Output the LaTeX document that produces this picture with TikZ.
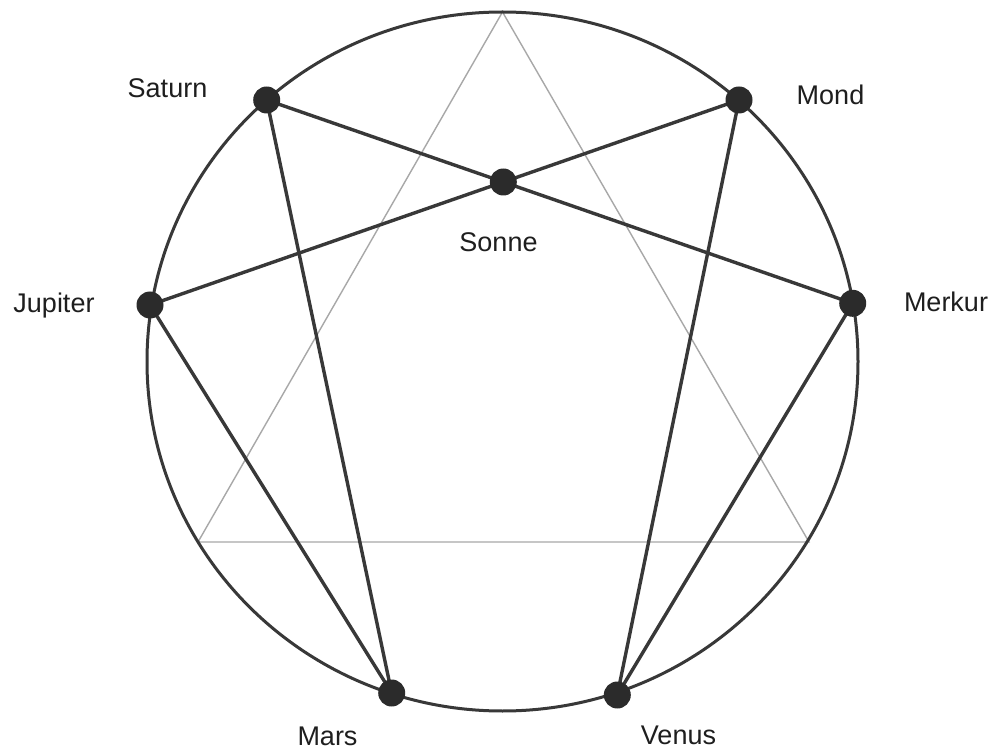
\documentclass[tikz,border=0pt]{standalone}
\usepackage{fontspec}
\setmainfont{Liberation Sans}
\definecolor{linecol}{HTML}{383838}
\definecolor{dotcol}{HTML}{2B2B2B}
\definecolor{tricol}{HTML}{A8A8A8}
\definecolor{txtcol}{HTML}{1E1E1E}
\begin{document}
\begin{tikzpicture}[x=1pt,y=-1pt,
  planet/.style={circle,fill=dotcol,inner sep=0pt,minimum size=27pt},
  lbl/.style={anchor=base,text=txtcol,font=\fontsize{27}{32}\selectfont,inner sep=0pt},
  chord/.style={draw=linecol,line width=3.4pt},
  ring/.style={draw=linecol,line width=3pt},
  tri/.style={draw=tricol,line width=1.4pt,line join=miter}]
\useasboundingbox (0,0) rectangle (994,751);
\fill[white] (0,0) rectangle (994,751);
% triangle
\coordinate (tA) at (502.5,12);
\coordinate (tB) at (198,542);
\coordinate (tC) at (809,542);
\draw[tri] (tA) -- (tB) -- (tC) -- cycle;
% circle
\coordinate (ctr) at (502.5,361.5);
\draw[ring] (ctr) ellipse [x radius=355.5pt, y radius=349.5pt];
% planets
\coordinate (saturnP) at (266.7,100);
\coordinate (mondP) at (739,100);
\coordinate (sonneP) at (503.3,182);
\coordinate (jupiterP) at (150,305);
\coordinate (merkurP) at (852.7,303.3);
\coordinate (marsP) at (391.7,693);
\coordinate (venusP) at (617.3,695);
% chords
\draw[chord] (saturnP) -- (sonneP) -- (merkurP);
\draw[chord] (mondP) -- (sonneP) -- (jupiterP);
\draw[chord] (saturnP) -- (marsP);
\draw[chord] (jupiterP) -- (marsP);
\draw[chord] (mondP) -- (venusP);
\draw[chord] (merkurP) -- (venusP);
% dots
\node[planet] (saturn) at (saturnP) {};
\node[planet] (mond) at (mondP) {};
\node[planet] (sonne) at (sonneP) {};
\node[planet] (jupiter) at (jupiterP) {};
\node[planet] (merkur) at (merkurP) {};
\node[planet] (mars) at (marsP) {};
\node[planet] (venus) at (venusP) {};
% labels
\node[lbl] (lsaturn) at (167.5,98) {Saturn};
\node[lbl] (lmond) at (830.5,105) {Mond};
\node[lbl] (lsonne) at (498.5,251.7) {Sonne};
\node[lbl] (ljupiter) at (54,312.7) {Jupiter};
\node[lbl] (lmerkur) at (946,311.7) {Merkur};
\node[lbl] (lmars) at (327.5,745) {Mars};
\node[lbl] (lvenus) at (678.5,744) {Venus};
\end{tikzpicture}
\end{document}
